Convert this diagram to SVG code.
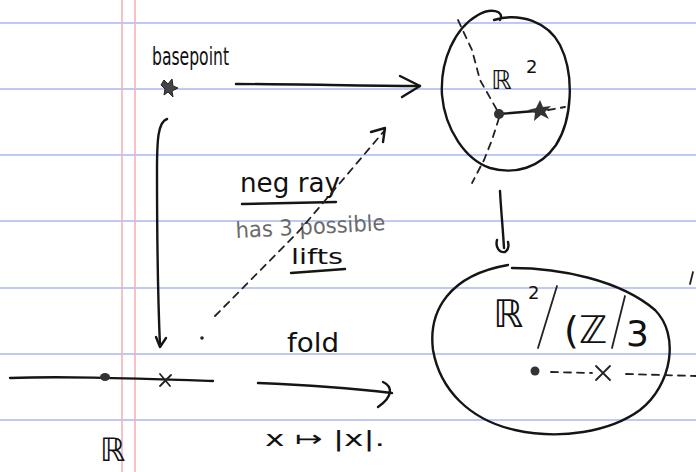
<svg xmlns="http://www.w3.org/2000/svg" width="696" height="472" viewBox="0 0 696 472">
<style>
.rule{stroke:#a9b9f0;stroke-width:1.6}
.margin{stroke:#f2b4b8;stroke-width:1.6}
.ink{fill:none;stroke:#151515;stroke-width:2.4;stroke-linecap:round;stroke-linejoin:round}
.thin{fill:none;stroke:#222;stroke-width:1.8;stroke-linecap:round}
.dash{fill:none;stroke:#222;stroke-width:1.8;stroke-dasharray:7 6;stroke-linecap:round}
.t{font-family:"DejaVu Sans","Liberation Sans",sans-serif;fill:#111}
.grey{fill:#6a6a6a}
</style>
<rect width="696" height="472" fill="#fff"/>
<g id="paper">
<line class="rule" x1="0" y1="23" x2="696" y2="23"/>
<line class="rule" x1="0" y1="89" x2="696" y2="89"/>
<line class="rule" x1="0" y1="155" x2="696" y2="155"/>
<line class="rule" x1="0" y1="221" x2="696" y2="221"/>
<line class="rule" x1="0" y1="288" x2="696" y2="288"/>
<line class="rule" x1="0" y1="354" x2="696" y2="354"/>
<line class="rule" x1="0" y1="420" x2="696" y2="420"/>
<line class="margin" x1="122" y1="0" x2="122" y2="472"/>
<line class="margin" x1="135" y1="0" x2="135" y2="472"/>
</g>
<g id="basepoint">
<text class="t" x="152" y="65" font-size="24" textLength="77" lengthAdjust="spacingAndGlyphs">basepoint</text>
<path d="M164 80 L168 84 L172 79 L173 86 L178 88 L172 91 L173 97 L168 92 L164 95 L165 89 L161 85 Z" fill="#444" stroke="#222" stroke-width="1"/>
</g>
<g id="plane">
<path class="ink" d="M494 20 C520 12 548 22 560 45 C575 75 572 120 556 145 C540 168 515 175 490 168 C466 160 445 130 442 95 C440 60 455 28 478 15 C490 8 505 10 500 20"/>
<path class="dash" d="M458 20 L472 50 L480 80 L497 110"/>
<path class="dash" d="M499 118 L492 140 L484 160 L472 183"/>
<line class="ink" x1="499" y1="114" x2="535" y2="111"/>
<line class="dash" x1="548" y1="110" x2="565" y2="107"/>
<circle cx="499" cy="114" r="5" fill="#333"/>
<path d="M540 100 L543 107 L551 106 L545 112 L549 119 L541 115 L534 121 L535 113 L528 110 L536 108 Z" fill="#333"/>
<text class="t" x="491" y="89" font-size="26">ℝ</text>
<text class="t" x="526" y="73" font-size="18">2</text>
</g>
<g id="quotient">
<path class="ink" d="M512 268 C560 268 620 280 655 310 C680 335 672 385 640 410 C610 432 560 440 515 430 C470 420 440 390 433 350 C428 310 450 275 508 265"/>
<text class="t" x="493" y="327" font-size="38">ℝ</text>
<text class="t" x="528" y="299" font-size="18">2</text>
<path class="thin" d="M557 286 L538 348"/>
<text class="t" x="564" y="343" font-size="38" fill="#555">(ℤ</text>
<path class="thin" d="M625 296 L612 348" stroke="#555"/>
<text class="t" x="626" y="346" font-size="36">3</text>
<circle cx="535" cy="371" r="4.5" fill="#333"/>
<path class="dash" d="M551 372 L592 373"/>
<path class="thin" d="M596 366 L610 380 M596 380 L610 366"/>
<path class="dash" d="M626 374 L696 376"/>
<path class="thin" d="M693 272 L690 284"/>
</g>
<g id="realline">
<path class="ink" d="M10 378 C60 376 120 378 213 381"/>
<ellipse cx="105" cy="377" rx="5" ry="4" fill="#333"/>
<path class="thin" d="M160 374 L170 386 M160 386 L171 375"/>
<text class="t" x="100" y="461" font-size="32">ℝ</text>
</g>
<g id="labels">
<text class="t" x="240" y="192" font-size="26" textLength="100" lengthAdjust="spacingAndGlyphs">neg ray</text>
<path class="ink" d="M242 204 L336 202"/>
<text class="t grey" x="236" y="238" font-size="22" textLength="150" lengthAdjust="spacingAndGlyphs" transform="rotate(-3 236 238)">has 3 possible</text>
<text class="t" x="291" y="264" font-size="22" textLength="52" lengthAdjust="spacingAndGlyphs">lifts</text>
<path class="ink" d="M291 273 L345 269"/>
<text class="t" x="287" y="352" font-size="26" textLength="52" lengthAdjust="spacingAndGlyphs">fold</text>
<text class="t" x="265" y="446" font-size="22" textLength="120" lengthAdjust="spacingAndGlyphs">x ↦ |x|.</text>
</g>
<g id="connectors">
<path class="ink" d="M236 84 C300 84 360 86 420 86"/>
<path class="ink" d="M400 76 L420 86 L402 97"/>
<path class="ink" d="M500 191 C501 210 503 230 504 248"/>
<path class="ink" d="M497 240 C495 248 500 253 505 252 C508 250 509 246 508 242"/>
<path class="ink" d="M167 119 C158 122 157 140 157 170 C157 230 158 300 160 346"/>
<path class="ink" d="M156 337 L160 347 L166 338"/>
<path class="dash" d="M215 316 L300 230 L385 130"/>
<path class="ink" d="M371 132 L385 128 L383 142"/>
<circle cx="202" cy="338" r="1.8" fill="#222"/>
<path class="ink" d="M258 383 C310 385 350 388 392 393"/>
<path class="ink" d="M383 382 C392 386 394 396 378 407"/>
</g>
</svg>
